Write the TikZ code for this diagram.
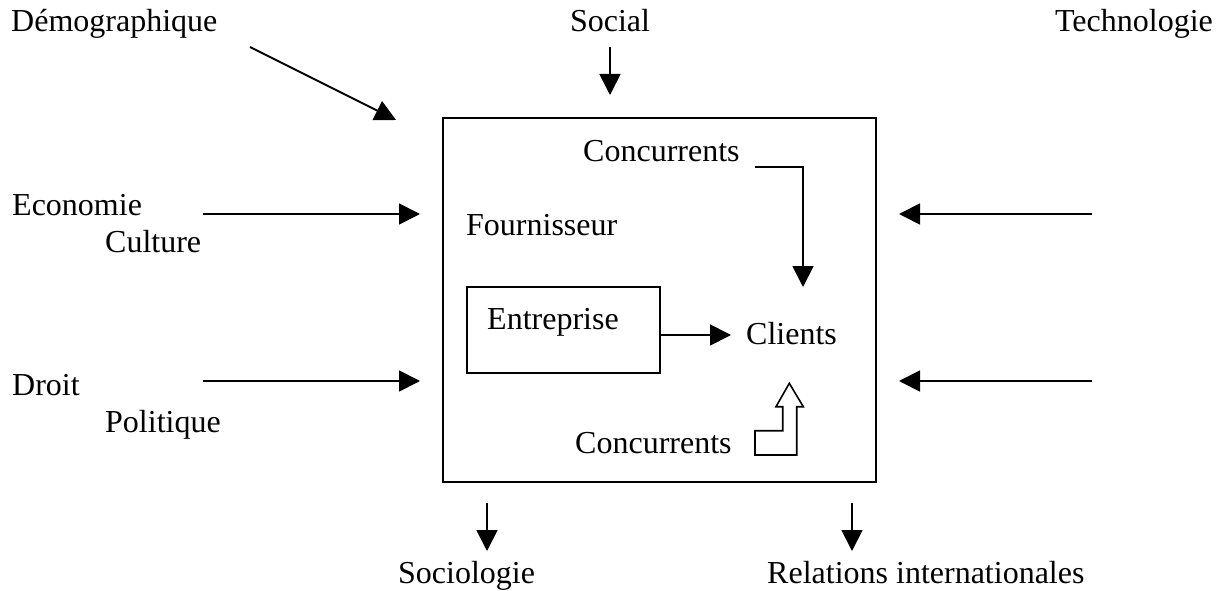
\documentclass[tikz,border=0pt]{standalone}
\usepackage{fontspec}
\setmainfont{Liberation Serif}
\usetikzlibrary{arrows.meta}
\begin{document}
\begin{tikzpicture}[x=1pt,y=-1pt,
  lbl/.style={anchor=base west,inner sep=0pt,font=\fontsize{32}{37}\selectfont},
  arr/.style={line width=1.8pt,-{Triangle[length=21pt,width=21pt]}},
  frame/.style={draw,line width=1.8pt}]
\useasboundingbox (0,0) rectangle (1221,591);
% outer box
\draw[frame] (443,118) rectangle (876,482);
\node[frame,minimum width=193pt,minimum height=86pt,inner sep=0pt] (ent) at (563.5,330) {};
% texts
\node[lbl] (demo) at (11,32) {Démographique};
\node[lbl,anchor=base] (soc) at (610,32) {Social};
\node[lbl,anchor=base east] (tech) at (1213,32) {Technologie};
\node[lbl] (eco) at (12,215) {Economie};
\node[lbl] (cul) at (105,252) {Culture};
\node[lbl] (droit) at (12,395) {Droit};
\node[lbl] (pol) at (105,432) {Politique};
\node[lbl] (conc1) at (583,161) {Concurrents};
\node[lbl] (four) at (466,235) {Fournisseur};
\node[lbl] (entt) at (487,329) {Entreprise};
\node[lbl] (cli) at (746,344) {Clients};
\node[lbl] (conc2) at (575,453) {Concurrents};
\node[lbl] (socio) at (398,583) {Sociologie};
\node[lbl] (rel) at (767,583) {Relations internationales};
% coordinates
\coordinate (d1) at (250,47); \coordinate (d2) at (396,120);
\coordinate (s1) at (610,47); \coordinate (s2) at (610,95);
\coordinate (e1) at (203,214); \coordinate (e2) at (420,214);
\coordinate (r1) at (203,381); \coordinate (r2) at (420,381);
\coordinate (t1) at (1092,214); \coordinate (t2) at (899,214);
\coordinate (u1) at (1092,381); \coordinate (u2) at (899,381);
\coordinate (b1) at (487,503); \coordinate (b2) at (487,551);
\coordinate (c1) at (852,503); \coordinate (c2) at (852,551);
\coordinate (k1) at (755,167); \coordinate (k2) at (803,287);
\coordinate (cl) at (731,335);
% arrows
\draw[arr] (d1) -- (d2);
\draw[arr] (s1) -- (s2);
\draw[arr] (e1) -- (e2);
\draw[arr] (r1) -- (r2);
\draw[arr] (t1) -- (t2);
\draw[arr] (u1) -- (u2);
\draw[arr] (b1) -- (b2);
\draw[arr] (c1) -- (c2);
\draw[arr] (k1) -| (k2);
\draw[arr] (ent.east |- cl) -- (cl);
% hollow bent arrow
\draw[line width=1.6pt,line join=miter] (789.3,383.3) -- (803.3,406.7) -- (796.7,406.7) -- (796.7,455) -- (755,455) -- (755,430.7) -- (782.7,430.7) -- (782.7,406.7) -- (776,406.7) -- cycle;
\end{tikzpicture}
\end{document}
